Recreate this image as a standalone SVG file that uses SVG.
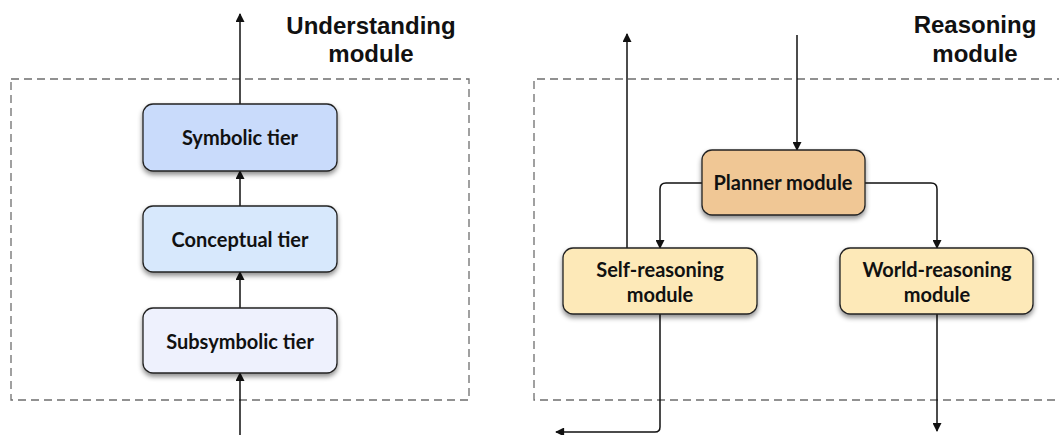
<svg xmlns="http://www.w3.org/2000/svg" width="1059" height="435" viewBox="0 0 1059 435">
  <style>
    .frame { fill: none; stroke: #6e6e6e; stroke-width: 1.3; stroke-dasharray: 8 5; }
    .title { font-family: "Liberation Sans", Arial, sans-serif; font-weight: bold; font-size: 24px; fill: #111; text-anchor: middle; }
    .box { stroke: #222; stroke-width: 1.3; filter: url(#shadow); }
    .label { font-family: Lato, "Open Sans", sans-serif; font-weight: bold; font-size: 20px; fill: #111; text-anchor: middle; }
    .wire { fill: none; stroke: #111; stroke-width: 1.5; marker-end: url(#arrow); }
  </style>
  <defs>
    <marker id="arrow" viewBox="0 0 10 10" refX="9" refY="5" markerWidth="11" markerHeight="9" markerUnits="userSpaceOnUse" orient="auto">
      <path d="M0,0 L10,5 L0,10 Z" fill="#111"/>
    </marker>
    <filter id="shadow" x="-10%" y="-20%" width="120%" height="150%">
      <feDropShadow dx="0" dy="3" stdDeviation="2.5" flood-color="#000" flood-opacity="0.45"/>
    </filter>
  </defs>

  <rect width="1059" height="435" fill="#fff"/>

  <!-- module frames -->
  <g id="understanding-module">
    <rect class="frame" x="11" y="79" width="458" height="321"/>
    <text class="title" x="371" y="34">Understanding</text>
    <text class="title" x="371" y="62">module</text>
  </g>
  <g id="reasoning-module">
    <path class="frame" d="M1065,79 H534 V400 H1065"/>
    <text class="title" x="975" y="33">Reasoning</text>
    <text class="title" x="975" y="62">module</text>
  </g>

  <!-- connectors -->
  <g id="connectors">
    <line class="wire" x1="240" y1="104" x2="240" y2="14"/>
    <line class="wire" x1="240" y1="206" x2="240" y2="171"/>
    <line class="wire" x1="240" y1="308" x2="240" y2="272"/>
    <line class="wire" x1="240" y1="435" x2="240" y2="373"/>
    <line class="wire" x1="797" y1="35" x2="797" y2="150"/>
    <path class="wire" d="M702,183 H666 Q660,183 660,189 V248"/>
    <path class="wire" d="M865,183 H931 Q937,183 937,189 V248"/>
    <line class="wire" x1="627" y1="248" x2="627" y2="34"/>
    <path class="wire" d="M660,314 V427 Q660,432 655,432 H556"/>
    <line class="wire" x1="937" y1="314" x2="937" y2="431"/>
  </g>

  <!-- understanding tiers -->
  <g id="symbolic-tier">
    <rect class="box" x="143" y="104" width="194" height="67" rx="10" fill="#c9dbfb"/>
    <text class="label" x="240" y="145">Symbolic tier</text>
  </g>
  <g id="conceptual-tier">
    <rect class="box" x="143" y="206" width="194" height="66" rx="10" fill="#d7e8fc"/>
    <text class="label" x="240" y="247">Conceptual tier</text>
  </g>
  <g id="subsymbolic-tier">
    <rect class="box" x="143" y="308" width="194" height="65" rx="10" fill="#eef1fd"/>
    <text class="label" x="240" y="349">Subsymbolic tier</text>
  </g>

  <!-- reasoning modules -->
  <g id="planner-module">
    <rect class="box" x="702" y="150" width="163" height="65" rx="10" fill="#f0c795"/>
    <text class="label" x="783" y="190">Planner module</text>
  </g>
  <g id="self-reasoning-module">
    <rect class="box" x="563" y="248" width="194" height="66" rx="10" fill="#fde9b8"/>
    <text class="label" x="660" y="277">Self-reasoning</text>
    <text class="label" x="660" y="302">module</text>
  </g>
  <g id="world-reasoning-module">
    <rect class="box" x="840" y="248" width="193" height="66" rx="10" fill="#fde9b8"/>
    <text class="label" x="937" y="277">World-reasoning</text>
    <text class="label" x="937" y="302">module</text>
  </g>
</svg>
